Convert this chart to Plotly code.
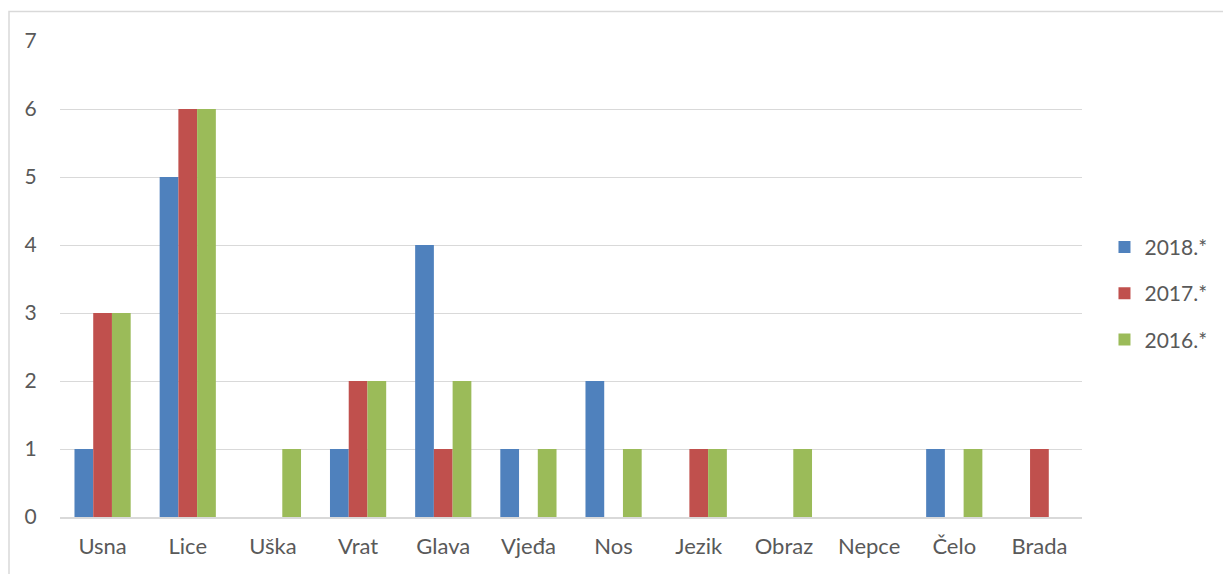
import plotly.graph_objects as go

categories = ["Usna", "Lice", "Uška", "Vrat", "Glava", "Vjeđa", "Nos", "Jezik", "Obraz", "Nepce", "Čelo", "Brada"]
series_names = ["2018.*", "2017.*", "2016.*"]
v2018 = [1, 5, 0, 1, 4, 1, 2, 0, 0, 0, 1, 0]
v2017 = [3, 6, 0, 2, 1, 0, 0, 1, 0, 0, 0, 1]
v2016 = [3, 6, 1, 2, 2, 1, 1, 1, 1, 0, 1, 0]
y_ticks = [0, 1, 2, 3, 4, 5, 6, 7]

colors = ["#4F81BD", "#C0504D", "#9BBB59"]
font_family = "Lato, 'Open Sans', sans-serif"
text_color = "#595959"

W, H = 1223, 566
L, R, T, B = 52, 149, 33, 57
PW, PH = W - L - R, H - T - B

fig = go.Figure()
for name, vals, col in zip(series_names, [v2018, v2017, v2016], colors):
    fig.add_trace(go.Bar(x=categories, y=vals, name=name, marker_color=col,
                         marker_line_width=0, legendgroup=name))

fig.update_layout(
    barmode="group",
    bargap=0.34,
    bargroupgap=0,
    width=W, height=H,
    margin=dict(l=L, r=R, t=T, b=B, autoexpand=False),
    paper_bgcolor="white",
    plot_bgcolor="white",
    font=dict(family=font_family, color=text_color, size=22),
    legend=dict(x=1.022, y=0.47, yanchor="middle", xanchor="left",
                font=dict(size=21, color=text_color), tracegroupgap=16,
                itemwidth=30),
    xaxis=dict(showgrid=False, showline=True, linecolor="#D9D9D9", linewidth=1.5,
               tickfont=dict(size=22, color=text_color), ticks="outside",
               tickcolor="rgba(0,0,0,0)", ticklen=9),
    yaxis=dict(range=[0, 7], tickvals=y_ticks, showgrid=True, gridcolor="#D9D9D9",
               gridwidth=1, zeroline=False, showline=False,
               tickfont=dict(size=21, color=text_color), ticks="outside",
               tickcolor="rgba(0,0,0,0)", ticklen=18),
    shapes=[dict(type="rect", xref="paper", yref="paper",
                 x0=(1 - L) / PW, x1=(W + 10 - L) / PW,
                 y0=-0.2, y1=(H - B - 3.5) / PH,
                 line=dict(color="#D9D9D9", width=1.5), fillcolor="rgba(0,0,0,0)",
                 layer="below")],
)

fig.write_html("out.html")
